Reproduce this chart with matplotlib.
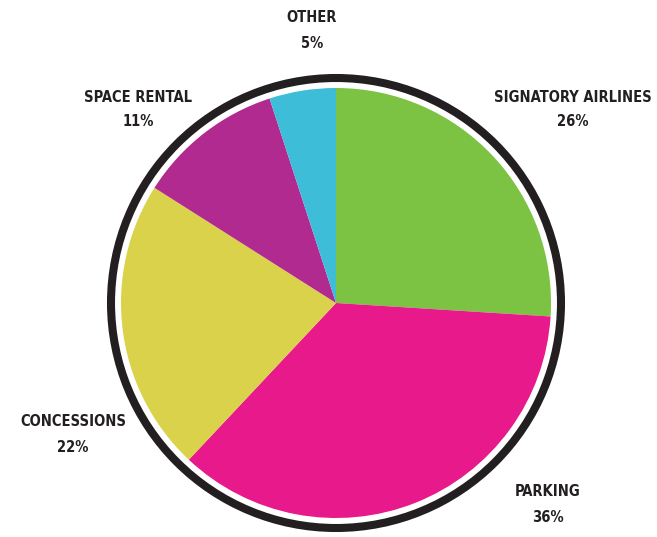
import matplotlib.pyplot as plt
from matplotlib.patches import Circle

# Revenue share by source
categories = ["SIGNATORY AIRLINES", "PARKING", "CONCESSIONS", "SPACE RENTAL", "OTHER"]
shares = [26, 36, 22, 11, 5]
colors = ["#7cc243", "#e8198b", "#dad24b", "#b12a90", "#3ebdd8"]

# label anchor positions in pixels (x, y from top)
label_pos = [(573, 97), (548, 492), (73, 422), (138, 97), (312, 18)]

W, H = 657, 537
fig = plt.figure(figsize=(W / 100, H / 100), dpi=100)
ax = fig.add_axes([0, 0, 1, 1])

cx, cy = 336, H - 303
ax.pie(shares, colors=colors, startangle=90, counterclock=False,
       center=(cx, cy), radius=215, frame=True,
       wedgeprops=dict(linewidth=0))
ax.set_xlim(0, W)
ax.set_ylim(0, H)
ax.set_aspect("equal")
ax.axis("off")

ring = Circle((cx, cy), 225, fill=False, edgecolor="#231f20", linewidth=5.8)
ax.add_patch(ring)

font = dict(family="DejaVu Sans", fontstretch="condensed", fontweight="bold",
            color="#231f20", ha="center", va="center", fontsize=10.5)
for name, val, (x, y) in zip(categories, shares, label_pos):
    ax.text(x, H - y, name, **font)
    ax.text(x, H - y - 25, f"{val}%", **font)

fig.savefig("out.png", dpi=100)
